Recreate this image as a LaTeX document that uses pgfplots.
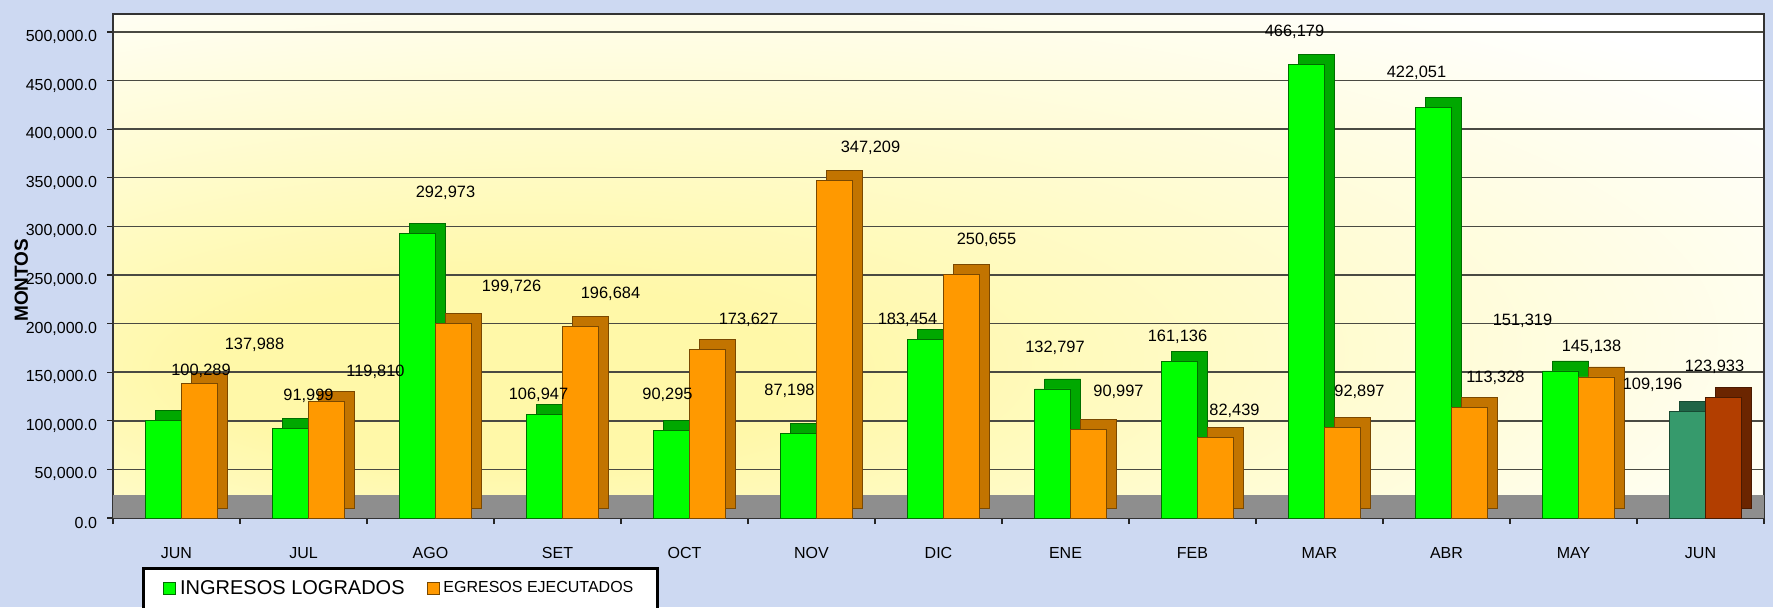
\documentclass[border=0pt]{standalone}
\usepackage{fontspec}
\setmainfont{Liberation Sans}
\usepackage{pgfplots}
\usepackage{pgfplotstable}
\pgfplotsset{compat=1.18}

\definecolor{bgblue}{HTML}{CDD9F2}
\definecolor{wallY}{HTML}{FFF8A8}
\definecolor{wallY2}{HTML}{FFFCD6}
\definecolor{floorc}{HTML}{8E8E8E}
\definecolor{gridc}{HTML}{4A4A42}
\definecolor{gface}{HTML}{00FF00}
\definecolor{gside}{HTML}{00A800}
\definecolor{goutl}{HTML}{006E00}
\definecolor{oface}{HTML}{FF9900}
\definecolor{oside}{HTML}{C27400}
\definecolor{ooutl}{HTML}{7A4800}
\definecolor{lgface}{HTML}{369A6C}
\definecolor{lgside}{HTML}{1F6446}
\definecolor{lgoutl}{HTML}{174A33}
\definecolor{lbface}{HTML}{B23E00}
\definecolor{lbside}{HTML}{6B2500}
\definecolor{lboutl}{HTML}{4A1A00}

\pgfdeclareradialshading{wallshade}{\pgfpoint{-15bp}{-12bp}}{%
  color(0bp)=(wallY); color(9bp)=(wallY); color(25bp)=(wallY2); color(40bp)=(white); color(80bp)=(white)}

\newcommand\tickfont{\fontsize{8}{9.6}\selectfont}
\newcommand\labfont{\fontsize{8.2}{9.8}\selectfont}

\pgfplotsset{
  sqlegend/.style={legend image code/.code={\draw[##1, line width=0.4pt] (0pt,-3pt) rectangle (6pt,3pt);}},
}

\pgfplotstableread{
idx ing egr dxg dyg dxe dye
0 100289 137988 12.25 25 39 19.5
1 91999 119810 2.5 16.5 36 15
2 292973 199726 7.5 20 40.5 18.5
3 106947 196684 -9.5 9.5 26.5 16.5
4 90295 173627 -8.5 17.5 32 14.5
5 87198 347209 -11 21 29.5 16.5
6 183454 250655 -15.5 10 24 17.5
7 132797 90997 -5.25 20.5 26.5 19
8 161136 82439 -7.5 12.5 21 13.5
9 466179 92897 -12.5 16.5 20 18
10 422051 113328 -15 17.5 24.5 15
11 151319 145138 -25.5 25 9 15
}\datamain

\pgfplotstableread{
idx ing egr dxg dyg dxe dye
12 109196 123933 -24 13.5 7 15.5
}\datalast

\begin{document}
\begin{tikzpicture}
\useasboundingbox (0,0) rectangle (886.5pt,303.5pt);
\fill[bgblue] (0,0) rectangle (886.5pt,303.5pt);
\clip (0,0) rectangle (886.5pt,303.5pt);
\begin{axis}[
  at={(56.5pt,44.5pt)}, anchor=south west,
  scale only axis, width=825.5pt, height=252pt,
  xmin=-0.5, xmax=12.5, ymin=0, ymax=518500,
  clip=false,
  xtick={0,...,12},
  xticklabels={JUN,JUL,AGO,SET,OCT,NOV,DIC,ENE,FEB,MAR,ABR,MAY,JUN},
  minor xtick={-0.5,0.5,...,12.5},
  ytick={0,50000,...,500000},
  scaled y ticks=false,
  yticklabel={\pgfmathprintnumber[fixed,fixed zerofill,precision=1,1000 sep={,},assume math mode=true]{\tick}},
  /pgf/number format/assume math mode=true,
  tick pos=left, tick align=outside,
  major tick length=3pt, minor tick length=3pt,
  major x tick style={draw=none},
  minor x tick style={draw=black!85, line width=0.6pt},
  y tick style={draw=black!85, line width=0.6pt},
  ymajorgrids,
  major grid style={draw=gridc, line width=0.7pt},
  axis line style={draw=black!80, line width=0.7pt},
  axis background/.style={shading=wallshade},
  yticklabel style={font=\tickfont, xshift=-1.5pt, yshift=-2.5pt},
  xticklabel style={font=\tickfont, yshift=-8pt},
  ylabel={\bfseries MONTOS},
  ylabel style={at={(axis description cs:-0.0555,0.472)}, anchor=center, font=\fontsize{9.5}{11}\selectfont},
  legend columns=2,
  legend cell align=left,
  legend style={at={(0.0176,-0.0972)}, anchor=north west, draw=black, line width=1.3pt, fill=white,
    inner xsep=10pt, inner ysep=4pt,
    /tikz/every even column/.append style={column sep=9pt}},
]
% floor
\addplot[fill=floorc, draw=none, forget plot] coordinates {(-0.5,24000) (12.5,24000)} \closedcycle;

% ingresos
\addplot[ybar, bar width=18pt, bar shift=-6.5pt, fill=gside, draw=goutl, line width=0.4pt,
  xshift=5pt, yshift=5pt, forget plot] table[x=idx,y=ing]{\datamain};
\addplot[ybar, sqlegend, bar width=18pt, bar shift=-6.5pt, fill=gface, draw=goutl, line width=0.4pt,
  visualization depends on={\thisrow{dxg} \as \dx},
  visualization depends on={\thisrow{dyg} \as \dy},
  nodes near coords={\pgfmathprintnumber[fixed,precision=0,1000 sep={,},assume math mode=true]{\pgfplotspointmeta}},
  nodes near coords style={font=\labfont, text=black, anchor=center, xshift=\dx pt, yshift=\dy pt}]
  table[x=idx,y=ing]{\datamain};
\addlegendentry{\fontsize{10}{12}\selectfont INGRESOS LOGRADOS}

% egresos
\addplot[ybar, bar width=18pt, bar shift=11.5pt, fill=oside, draw=ooutl, line width=0.4pt,
  xshift=5pt, yshift=5pt, forget plot] table[x=idx,y=egr]{\datamain};
\addplot[ybar, sqlegend, bar width=18pt, bar shift=11.5pt, fill=oface, draw=ooutl, line width=0.4pt,
  visualization depends on={\thisrow{dxe} \as \dx},
  visualization depends on={\thisrow{dye} \as \dy},
  nodes near coords={\pgfmathprintnumber[fixed,precision=0,1000 sep={,},assume math mode=true]{\pgfplotspointmeta}},
  nodes near coords style={font=\labfont, text=black, anchor=center, xshift=\dx pt, yshift=\dy pt}]
  table[x=idx,y=egr]{\datamain};
\addlegendentry{\fontsize{8}{10}\selectfont EGRESOS EJECUTADOS}

% last month (different colours)
\addplot[ybar, bar width=18pt, bar shift=-6.5pt, fill=lgside, draw=lgoutl, line width=0.4pt,
  xshift=5pt, yshift=5pt, forget plot] table[x=idx,y=ing]{\datalast};
\addplot[ybar, bar width=18pt, bar shift=-6.5pt, fill=lgface, draw=lgoutl, line width=0.4pt, forget plot,
  visualization depends on={\thisrow{dxg} \as \dx},
  visualization depends on={\thisrow{dyg} \as \dy},
  nodes near coords={\pgfmathprintnumber[fixed,precision=0,1000 sep={,},assume math mode=true]{\pgfplotspointmeta}},
  nodes near coords style={font=\labfont, text=black, anchor=center, xshift=\dx pt, yshift=\dy pt}]
  table[x=idx,y=ing]{\datalast};
\addplot[ybar, bar width=18pt, bar shift=11.5pt, fill=lbside, draw=lboutl, line width=0.4pt,
  xshift=5pt, yshift=5pt, forget plot] table[x=idx,y=egr]{\datalast};
\addplot[ybar, bar width=18pt, bar shift=11.5pt, fill=lbface, draw=lboutl, line width=0.4pt, forget plot,
  visualization depends on={\thisrow{dxe} \as \dx},
  visualization depends on={\thisrow{dye} \as \dy},
  nodes near coords={\pgfmathprintnumber[fixed,precision=0,1000 sep={,},assume math mode=true]{\pgfplotspointmeta}},
  nodes near coords style={font=\labfont, text=black, anchor=center, xshift=\dx pt, yshift=\dy pt}]
  table[x=idx,y=egr]{\datalast};
\end{axis}
\end{tikzpicture}
\end{document}
